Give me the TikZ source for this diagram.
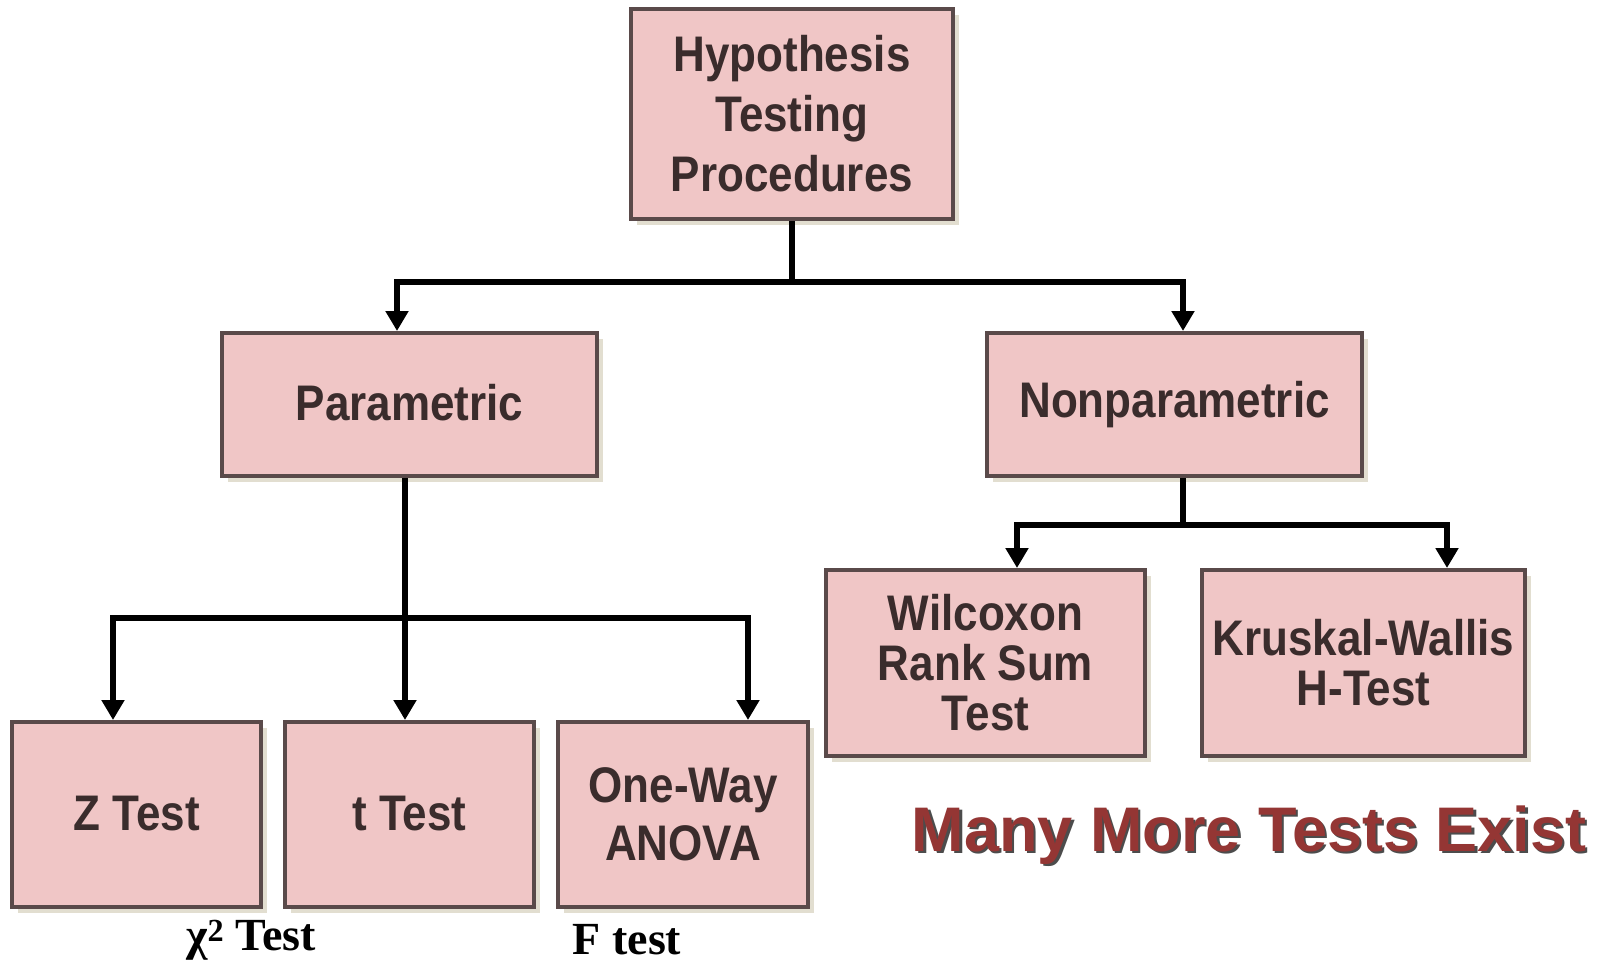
\documentclass[tikz,border=0pt]{standalone}
\usepackage{fontspec}
\setmainfont{Liberation Serif}
\newfontfamily\boxfont[FakeStretch=0.88]{Liberation Sans}
\newfontfamily\notefont{Liberation Sans}
\usetikzlibrary{arrows.meta,shadows}
\definecolor{boxfill}{RGB}{240,198,198}
\definecolor{boxline}{RGB}{90,74,74}
\definecolor{boxtext}{RGB}{58,44,44}
\definecolor{shade}{RGB}{226,222,208}
\definecolor{notered}{RGB}{148,54,52}
\tikzset{
  testbox/.style = {draw=boxline, line width=4pt, fill=boxfill, text=boxtext, align=center,
    font=\boxfont\bfseries\fontsize{50}{60}\selectfont, inner sep=0pt,
    drop shadow={shadow xshift=6pt, shadow yshift=-6pt, fill=shade, opacity=1}},
  link/.style = {line width=5.5pt, -{Triangle[width=22pt,length=20pt]}}
}
\begin{document}
\begin{tikzpicture}[x = 1pt, y = -1pt]
	\useasboundingbox (0,0) rectangle (1606,966);
	% boxes
	\node [testbox, minimum width=322pt, minimum height=210pt] (hyp) at (792,114) {Hypothesis\\Testing\\Procedures};
	\node [testbox, minimum width=375pt, minimum height=143pt] (par) at (409.5,404.5) {\raisebox{5pt}{Parametric}};
	\node [testbox, minimum width=375pt, minimum height=143pt] (npar) at (1174.5,404.5) {Nonparametric};
	\node [testbox, minimum width=249pt, minimum height=185pt] (ztest) at (136.5,814.5) {\raisebox{3pt}{Z Test}};
	\node [testbox, minimum width=249pt, minimum height=185pt] (ttest) at (409.5,814.5) {\raisebox{3pt}{t Test}};
	\node [testbox, minimum width=250pt, minimum height=185pt, font=\boxfont\bfseries\fontsize{50}{58}\selectfont] (anova) at (683,814.5) {One-Way\\ANOVA};
	\node [testbox, minimum width=319pt, minimum height=186pt, font=\boxfont\bfseries\fontsize{50}{50}\selectfont] (wil) at (985.5,663) {Wilcoxon\\Rank Sum\\Test};
	\node [testbox, minimum width=323pt, minimum height=186pt, font=\boxfont\bfseries\fontsize{50}{50}\selectfont] (kru) at (1363.5,663) {Kruskal-Wallis\\H-Test};
	% connectors
	\coordinate (jtop) at (792,282);
	\coordinate (jpar) at (405,618);
	\coordinate (jnpar) at (1183,525);
	\draw [line width=5.5pt] (hyp.south) -- (jtop);
	\draw [link] (jtop) -| ([xshift=-12.5pt]par.north);
	\draw [link] (jtop) -| ([xshift=8.5pt]npar.north);
	\draw [link] ([xshift=-4.5pt]par.south) -- ([xshift=-4.5pt]ttest.north);
	\draw [link] (jpar) -| ([xshift=-23.5pt]ztest.north);
	\draw [link] (jpar) -| ([xshift=65pt]anova.north);
	\draw [line width=5.5pt] ([xshift=8.5pt]npar.south) -- (jnpar);
	\draw [link] (jnpar) -| ([xshift=31.5pt]wil.north);
	\draw [link] (jnpar) -| ([xshift=83.5pt]kru.north);
	% notes
	\node [font=\bfseries\fontsize{46}{50}\selectfont] (chi) at (251,940) {χ\textsuperscript{2} Test};
	\node [font=\bfseries\fontsize{46}{50}\selectfont] (ftest) at (627,940) {F test};
	\node [font=\notefont\bfseries\fontsize{63}{70}\selectfont, text=black!70] at (1251.5,837.5) {Many More Tests Exist};
	\node [font=\notefont\bfseries\fontsize{63}{70}\selectfont, text=notered] (more) at (1249,835) {Many More Tests Exist};
\end{tikzpicture}
\end{document}
